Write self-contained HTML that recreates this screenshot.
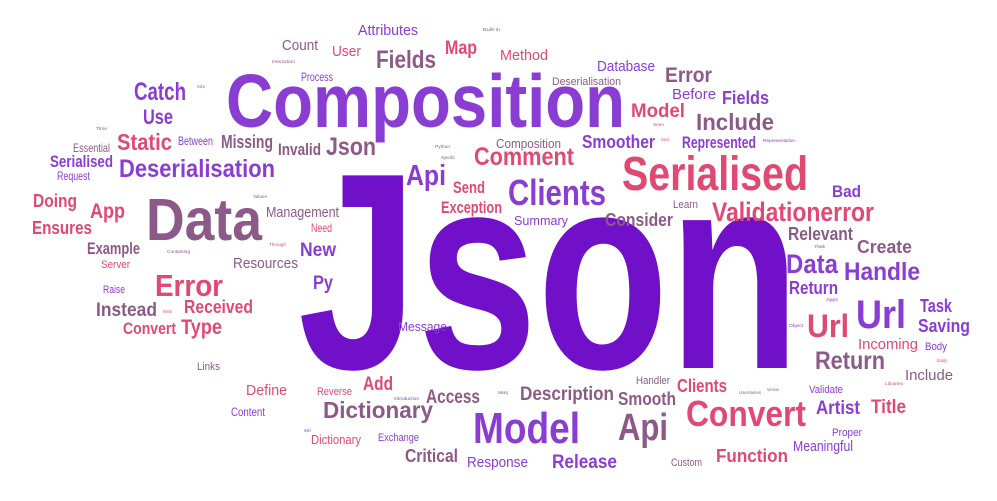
<!DOCTYPE html>
<html><head><meta charset="utf-8"><style>
html,body{margin:0;padding:0;background:#fff;width:997px;height:501px;overflow:hidden}
svg text{font-family:"Liberation Sans",sans-serif}
</style></head><body>
<svg id="cloud" width="997" height="501" viewBox="0 0 997 501" xmlns="http://www.w3.org/2000/svg"></svg>
<script>
const P="#8a3dd3",K="#e04a72",M="#8c5a88",V="#7010c8";
// [word, left x, baseline y, font size, width, color]
const words=[
["Json",298,368,280,502,V],
["Composition",226,127,84,399,P],
["Data",146,240,66,116,M],
["Serialised",622,190,54,186,K],
["Clients",508,205,40,98,P],
["Model",473,443,48,107,P],
["Api",618,440,42,50,M],
["Convert",686,426,40,120,K],
["Validationerror",712,221,30,162,K],
["Deserialisation",119,177,28,156,P],
["Static",117,150,26,55,K],
["Error",155,296,34,68,K],
["Url",807,337,36,42,K],
["Url",856,328,44,50,P],
["Fields",376,68,28,60,M],
["Include",696,130,26,78,M],
["Json",326,155,28,50,M],
["Api",406,185,32,40,P],
["Comment",474,165,28,100,K],
["Data",786,273,30,52,P],
["Handle",844,280,28,76,P],
["Return",789,294,20,49,P],
["Return",815,369,28,70,M],
["Error",665,82,24,47,M],
["Attributes",358,35,16,60,P],
["Count",282,50,16,36,M],
["User",332,56,16,29,K],
["Map",445,54,22,32,K],
["Built-in",483,31,5,17,M],
["Interaction",272,63,5,23,M],
["Process",301,81,13,32,P],
["Catch",134,100,28,52,P],
["Use",143,124,24,30,P],
["Size",197,88,5,8,M],
["Time",96,130,5,11,M],
["Essential",73,152,13,37,M],
["Between",178,145,13,35,P],
["Missing",221,148,20,52,M],
["Invalid",278,155,18,43,M],
["Serialised",50,167,18,63,P],
["Request",57,180,13,33,P],
["Doing",33,207,20,44,K],
["App",90,218,24,35,K],
["Values",253,198,5,14,M],
["Management",266,217,16,73,M],
["Need",311,232,13,21,K],
["Ensures",32,234,20,60,K],
["Example",87,254,18,53,M],
["Through",269,246,5,17,K],
["New",300,256,22,36,P],
["Python",435,148,5,15,M],
["Specific",441,159,5,14,M],
["Send",453,193,18,32,K],
["Exception",441,213,18,61,K],
["Method",500,60,16,48,K],
["Database",597,71,16,58,P],
["Deserialisation",552,85,12,69,M],
["Before",672,99,16,44,P],
["Fields",722,104,20,47,P],
["Model",631,117,22,54,K],
["Seen",653,126,5,11,K],
["Composition",496,148,14,65,M],
["Smoother",582,148,20,73,P],
["Used",661,141,5,8,K],
["Represented",682,148,18,74,P],
["Representation",763,142,5,32,P],
["Bad",832,197,18,29,P],
["Learn",673,208,12,25,M],
["Summary",514,225,14,54,P],
["Consider",605,226,20,68,M],
["Relevant",788,240,20,65,M],
["Create",857,253,20,55,M],
["Flask",815,248,5,10,P],
["Containing",167,253,5,23,M],
["Server",101,268,12,29,K],
["Resources",233,268,16,65,M],
["Py",313,289,22,20,P],
["Raise",103,293,12,22,P],
["Instead",96,316,22,61,M],
["Web",163,313,5,9,K],
["Received",184,313,20,69,K],
["Convert",123,334,18,53,K],
["Type",181,334,24,41,K],
["Message",398,331,14,49,P],
["Links",197,370,12,23,M],
["Define",246,395,16,41,K],
["Reverse",317,395,12,35,K],
["Add",363,390,22,30,K],
["Introduction",394,400,5,25,P],
["Access",426,403,22,54,M],
["Content",231,416,13,34,P],
["Dictionary",323,418,26,110,M],
["Model's",304,432,5,7,P],
["Dictionary",311,444,14,50,K],
["Exchange",378,441,12,41,P],
["Critical",405,462,20,53,M],
["Response",467,467,16,61,P],
["Making",498,394,5,10,M],
["Apps",826,301,5,12,P],
["Task",920,312,20,32,P],
["Saving",918,332,20,52,P],
["Object",789,327,5,14,P],
["Incoming",858,349,16,60,K],
["Body",925,350,12,22,P],
["Easily",937,362,5,10,K],
["Include",905,380,16,48,M],
["Libraries",885,385,5,18,K],
["Handler",636,384,12,34,M],
["Clients",677,392,20,50,K],
["Usernames",739,394,5,22,M],
["Versus",767,391,5,12,M],
["Validate",809,393,12,34,P],
["Description",520,400,22,94,M],
["Smooth",618,405,20,58,M],
["Artist",816,414,22,44,P],
["Title",871,413,22,35,K],
["Proper",832,436,12,30,P],
["Meaningful",793,451,16,60,P],
["Function",716,462,20,72,K],
["Release",552,468,22,65,P],
["Custom",671,466,12,31,M]
];
const svg=document.getElementById("cloud");
const NS="http://www.w3.org/2000/svg";
for(const w of words){
  const t=document.createElementNS(NS,"text");
  const fs=w[3]>=100?w[3]:w[3]*0.9;
  t.setAttribute("x",w[1]);
  t.setAttribute("y",w[2]);
  t.setAttribute("font-size",fs);
  t.setAttribute("fill",w[5]);
  t.setAttribute("font-weight",w[3]>=18?"bold":"normal");
  t.setAttribute("textLength",w[4]);
  t.setAttribute("lengthAdjust","spacingAndGlyphs");
  t.textContent=w[0];
  
  
  svg.appendChild(t);
}
</script>
</body></html>
